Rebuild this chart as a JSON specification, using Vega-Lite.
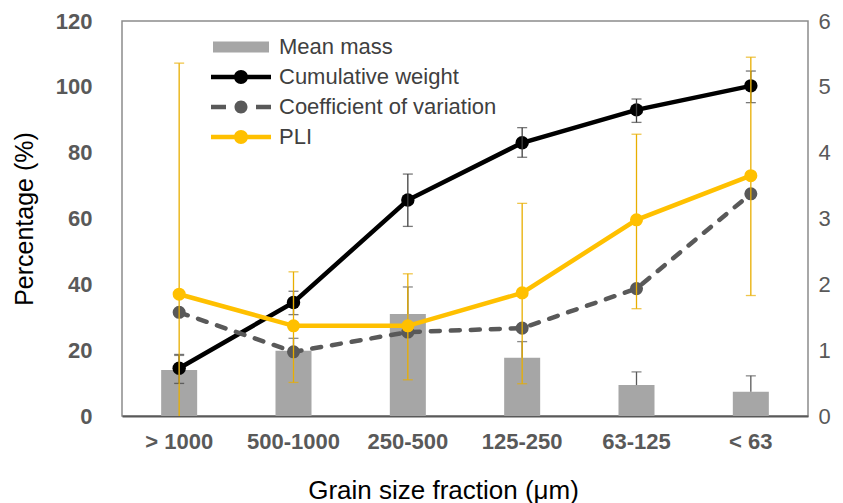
{
  "$schema": "https://vega.github.io/schema/vega-lite/v6.json",
  "width": 686,
  "height": 395,
  "autosize": "none",
  "padding": {"left": 122, "top": 21, "right": 35, "bottom": 87},
  "background": "white",
  "config": {
    "font": "Liberation Sans",
    "view": {"stroke": "#8c8c8c", "strokeWidth": 1.5},
    "axis": {"grid": false, "ticks": false}
  },
  "datasets": {
    "main": [
      {"size": "> 1000", "mm": 0.70, "mm_hi": 0.92, "cw": 14.5, "cw_lo": 9.9, "cw_hi": 18.7, "cv": 31.5, "pli": 1.85, "pli_lo": -1.66, "pli_hi": 5.36},
      {"size": "500-1000", "mm": 0.99, "mm_hi": 1.18, "cw": 34.5, "cw_lo": 30.8, "cw_hi": 37.9, "cv": 19.5, "pli": 1.37, "pli_lo": 0.51, "pli_hi": 2.19},
      {"size": "250-500", "mm": 1.55, "mm_hi": 1.96, "cw": 65.6, "cw_lo": 57.6, "cw_hi": 73.5, "cv": 25.5, "pli": 1.37, "pli_lo": 0.55, "pli_hi": 2.16},
      {"size": "125-250", "mm": 0.885, "mm_hi": 1.13, "cw": 83.0, "cw_lo": 78.6, "cw_hi": 87.6, "cv": 26.7, "pli": 1.87, "pli_lo": 0.49, "pli_hi": 3.23},
      {"size": "63-125", "mm": 0.47, "mm_hi": 0.67, "cw": 93.0, "cw_lo": 89.2, "cw_hi": 96.3, "cv": 38.7, "pli": 2.98, "pli_lo": 1.63, "pli_hi": 4.28},
      {"size": "< 63", "mm": 0.37, "mm_hi": 0.61, "cw": 100.3, "cw_lo": 95.2, "cw_hi": 104.8, "cv": 67.5, "pli": 3.65, "pli_lo": 1.83, "pli_hi": 5.45}
    ],
    "series": [
      {"s": "Mean mass"},
      {"s": "Cumulative weight"},
      {"s": "Coefficient of variation"},
      {"s": "PLI"}
    ]
  },
  "layer": [
    {
      "data": {"name": "main"},
      "layer": [
        {
          "mark": {"type": "bar", "color": "#a6a6a6", "width": {"band": 0.315}},
          "encoding": {
            "x": {"field": "size", "type": "nominal",
                  "scale": {"domain": ["> 1000", "500-1000", "250-500", "125-250", "63-125", "< 63"], "paddingInner": 0, "paddingOuter": 0},
                  "axis": {"title": "Grain size fraction (μm)", "titleFontSize": 26, "titleFontWeight": "normal", "titleColor": "#000000",
                           "titleX": 321, "titleY": 82, "titleAlign": "center", "titleBaseline": "alphabetic",
                           "labelFontSize": 22, "labelFontWeight": "bold", "labelColor": "#595959", "labelPadding": 15, "labelAngle": 0,
                           "domain": true, "domainColor": "#595959", "domainWidth": 2, "ticks": false}},
            "y": {"field": "mm", "type": "quantitative", "scale": {"domain": [0, 6], "nice": false, "zero": true},
                  "axis": {"orient": "right", "values": [0, 1, 2, 3, 4, 5, 6], "format": "d", "domain": false, "ticks": false, "grid": false,
                           "labelFontSize": 22, "labelColor": "#595959", "labelPadding": 10, "title": null}}
          }
        },
        {
          "mark": {"type": "rule", "color": "#595959", "strokeWidth": 1.3},
          "encoding": {
            "x": {"field": "size", "type": "nominal"},
            "y": {"field": "mm", "type": "quantitative"},
            "y2": {"field": "mm_hi"}
          }
        },
        {
          "mark": {"type": "tick", "orient": "horizontal", "color": "#595959", "size": 10, "thickness": 1.3},
          "encoding": {
            "x": {"field": "size", "type": "nominal"},
            "y": {"field": "mm_hi", "type": "quantitative"}
          }
        }
      ]
    },
    {
      "data": {"name": "main"},
      "layer": [
        {
          "mark": {"type": "line", "color": "#000000", "strokeWidth": 4.5},
          "encoding": {
            "x": {"field": "size", "type": "nominal"},
            "y": {"field": "cw", "type": "quantitative", "scale": {"domain": [0, 120], "nice": false},
                  "axis": {"orient": "left", "values": [0, 20, 40, 60, 80, 100, 120], "domain": false, "ticks": false, "grid": false,
                           "labelFontSize": 22, "labelFontWeight": "bold", "labelColor": "#595959", "labelPadding": 30,
                           "title": "Percentage (%)", "titleFontSize": 25, "titleFontWeight": "normal", "titleColor": "#000000",
                           "titleAngle": -90, "titleX": -90, "titleY": 197.5, "titleAlign": "center", "titleBaseline": "alphabetic"}}
          }
        },
        {
          "mark": {"type": "point", "filled": true, "color": "#000000", "size": 180, "opacity": 1},
          "encoding": {
            "x": {"field": "size", "type": "nominal"},
            "y": {"field": "cw", "type": "quantitative"}
          }
        },
        {
          "mark": {"type": "rule", "color": "#404040", "strokeWidth": 1.3},
          "encoding": {
            "x": {"field": "size", "type": "nominal"},
            "y": {"field": "cw_lo", "type": "quantitative"},
            "y2": {"field": "cw_hi"}
          }
        },
        {
          "mark": {"type": "tick", "orient": "horizontal", "color": "#404040", "size": 10, "thickness": 1.3},
          "encoding": {
            "x": {"field": "size", "type": "nominal"},
            "y": {"field": "cw_lo", "type": "quantitative"}
          }
        },
        {
          "mark": {"type": "tick", "orient": "horizontal", "color": "#404040", "size": 10, "thickness": 1.3},
          "encoding": {
            "x": {"field": "size", "type": "nominal"},
            "y": {"field": "cw_hi", "type": "quantitative"}
          }
        },
        {
          "mark": {"type": "line", "color": "#595959", "strokeWidth": 4.5, "strokeDash": [9, 11], "strokeCap": "round"},
          "encoding": {
            "x": {"field": "size", "type": "nominal"},
            "y": {"field": "cv", "type": "quantitative"}
          }
        },
        {
          "mark": {"type": "point", "filled": true, "color": "#595959", "size": 170, "opacity": 1},
          "encoding": {
            "x": {"field": "size", "type": "nominal"},
            "y": {"field": "cv", "type": "quantitative"}
          }
        }
      ]
    },
    {
      "data": {"name": "main"},
      "layer": [
        {
          "mark": {"type": "rule", "color": "#e8ae00", "strokeWidth": 1.3, "clip": true},
          "encoding": {
            "x": {"field": "size", "type": "nominal"},
            "y": {"field": "pli_lo", "type": "quantitative", "scale": {"domain": [0, 6], "nice": false}, "axis": null},
            "y2": {"field": "pli_hi"}
          }
        },
        {
          "mark": {"type": "tick", "orient": "horizontal", "color": "#e8ae00", "size": 10, "thickness": 1.3, "clip": true},
          "encoding": {
            "x": {"field": "size", "type": "nominal"},
            "y": {"field": "pli_lo", "type": "quantitative", "axis": null}
          }
        },
        {
          "mark": {"type": "tick", "orient": "horizontal", "color": "#e8ae00", "size": 10, "thickness": 1.3, "clip": true},
          "encoding": {
            "x": {"field": "size", "type": "nominal"},
            "y": {"field": "pli_hi", "type": "quantitative", "axis": null}
          }
        },
        {
          "mark": {"type": "line", "color": "#ffc000", "strokeWidth": 4.5},
          "encoding": {
            "x": {"field": "size", "type": "nominal"},
            "y": {"field": "pli", "type": "quantitative", "axis": null}
          }
        },
        {
          "mark": {"type": "point", "filled": true, "color": "#ffc000", "size": 170, "opacity": 1},
          "encoding": {
            "x": {"field": "size", "type": "nominal"},
            "y": {"field": "pli", "type": "quantitative", "axis": null}
          }
        }
      ]
    },
    {
      "data": {"name": "series"},
      "mark": {"type": "point", "filled": true, "opacity": 0},
      "encoding": {
        "color": {"field": "s", "type": "nominal",
                  "scale": {"domain": ["Mean mass", "Cumulative weight", "Coefficient of variation", "PLI"],
                            "range": ["#a6a6a6", "#000000", "#595959", "#ffc000"]},
                  "legend": {"orient": "none", "legendX": 108, "legendY": 15, "title": null, "padding": 0,
                             "symbolSize": 400, "symbolOpacity": 1, "symbolStrokeWidth": 0,
                             "labelFontSize": 22, "labelColor": "#404040", "labelOffset": 27, "labelLimit": 400,
                             "rowPadding": 8}},
        "shape": {"field": "s", "type": "nominal",
                  "scale": {"domain": ["Mean mass", "Cumulative weight", "Coefficient of variation", "PLI"],
                            "range": [
                              "M-2.8,-0.55H2.8V0.55H-2.8Z",
                              "M-3,-0.225H-0.6V0.225H-3Z M0.6,-0.225H3V0.225H0.6Z M-0.7,0A0.7,0.7 0 1,1 0.7,0A0.7,0.7 0 1,1 -0.7,0Z",
                              "M-3,-0.225H-1.5V0.225H-3Z M1.5,-0.225H3V0.225H1.5Z M-0.65,0A0.65,0.65 0 1,1 0.65,0A0.65,0.65 0 1,1 -0.65,0Z",
                              "M-3,-0.225H-0.6V0.225H-3Z M0.6,-0.225H3V0.225H0.6Z M-0.7,0A0.7,0.7 0 1,1 0.7,0A0.7,0.7 0 1,1 -0.7,0Z"
                            ]},
                  "legend": {"orient": "none", "legendX": 108, "legendY": 15, "title": null, "padding": 0,
                             "symbolSize": 400, "symbolOpacity": 1, "symbolStrokeWidth": 0,
                             "labelFontSize": 22, "labelColor": "#404040", "labelOffset": 27, "labelLimit": 400,
                             "rowPadding": 8}}
      }
    }
  ],
  "resolve": {"scale": {"y": "independent"}}
}
